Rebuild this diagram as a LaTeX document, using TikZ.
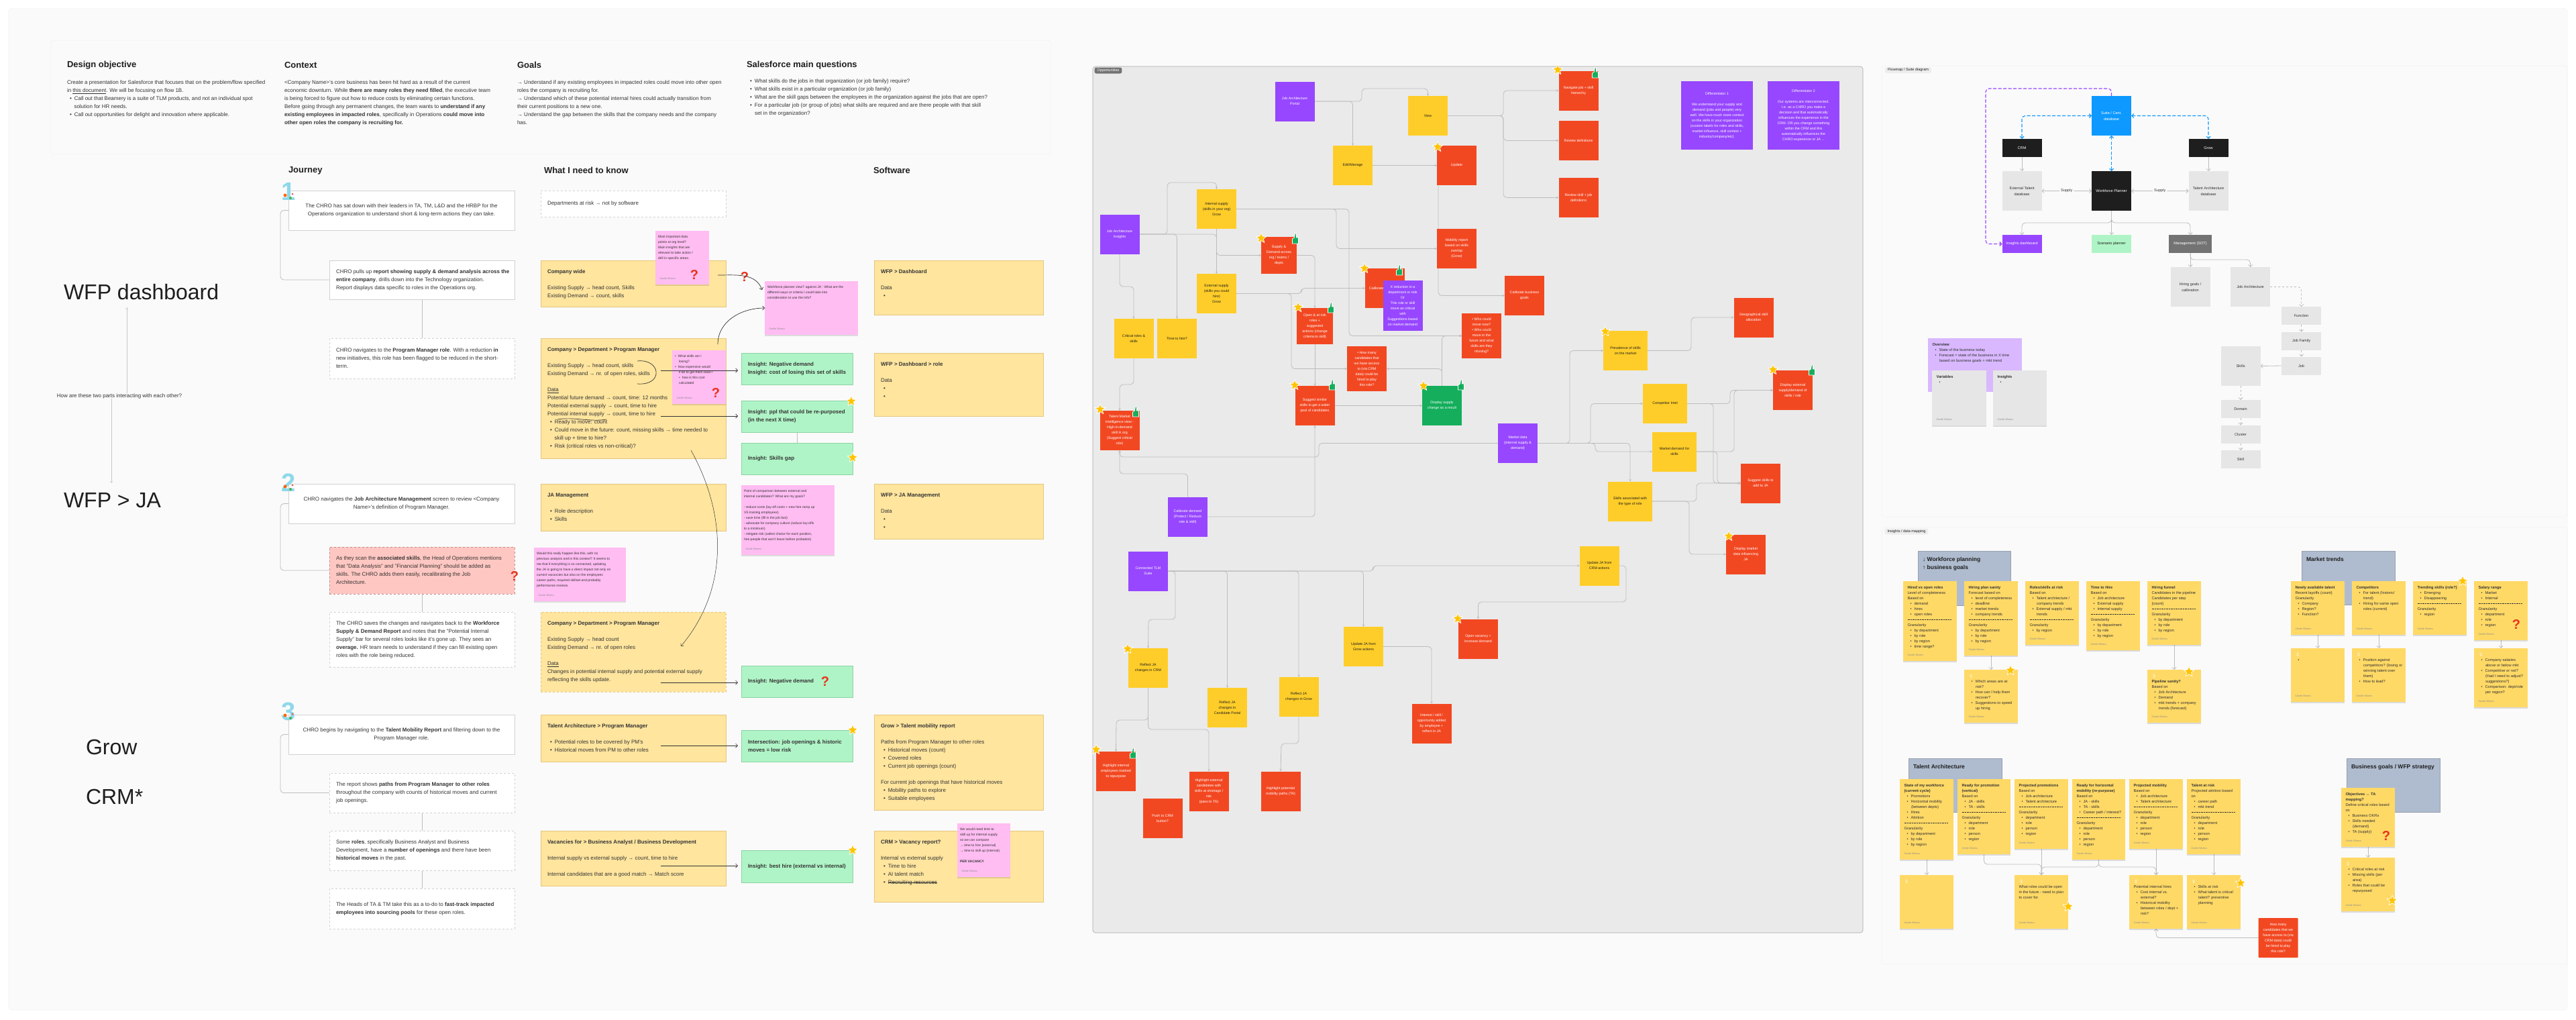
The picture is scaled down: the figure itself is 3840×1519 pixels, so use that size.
\documentclass[tikz,border=0pt]{standalone}
\usepackage{fontspec}
\setmainfont{Liberation Sans}
\newfontfamily\emojifont{Noto Emoji}
\usetikzlibrary{arrows.meta,shapes.geometric,shadows}
\pgfdeclarelayer{back}
\pgfdeclarelayer{links}
\pgfsetlayers{back,links,main}
\definecolor{pagegrey}{HTML}{FAFAFA}
\definecolor{panelgrey}{HTML}{EAEAEA}
\definecolor{edgegrey}{HTML}{F2F2F2}
\definecolor{linkgrey}{HTML}{BDBDBD}
\definecolor{inkgrey}{HTML}{333333}
\definecolor{cardyellow}{HTML}{FFE59E}
\definecolor{cardedge}{HTML}{E6C67C}
\definecolor{cardgreen}{HTML}{AFF4C6}
\definecolor{greenedge}{HTML}{8CD3A4}
\definecolor{cardpink}{HTML}{FFBDF2}
\definecolor{cardsalmon}{HTML}{FFC7C2}
\definecolor{stickyyellow}{HTML}{FFD966}
\definecolor{oppred}{HTML}{F24822}
\definecolor{oppyellow}{HTML}{FFCD29}
\definecolor{opppurple}{HTML}{9747FF}
\definecolor{oppgreen}{HTML}{14AE5C}
\definecolor{suiteblue}{HTML}{0D99FF}
\definecolor{suiteblack}{HTML}{1E1E1E}
\definecolor{suitegrey}{HTML}{E6E6E6}
\definecolor{softpurple}{HTML}{D9B8FF}
\definecolor{headblue}{HTML}{AFBCCF}
\definecolor{starcolor}{HTML}{FFC400}
\definecolor{askred}{HTML}{E8321C}
\definecolor{digitblue}{HTML}{8FD8EA}
\newcommand{\bul}{\hspace*{4pt}\textbullet\hspace{4pt}}
\newcommand{\cnt}{\hspace*{10.5pt}}
\newcommand{\bulb}{{\color{white}\emojifont\symbol{"1F4A1}}}
\newcommand{\strike}[1]{\leavevmode\setbox0\hbox{#1}\rlap{\rule[2.2pt]{\wd0}{.4pt}}\box0}
\newcommand{\sepline}{\leavevmode\hbox to 66pt{\leaders\hbox{\rule[1.5pt]{0.8pt}{0.3pt}\hspace{0.6pt}}\hfill}}
\newcommand{\sticky}[6]{%
  \node[stickybox, minimum width={#4-#2}, minimum height={#5-#3}] (#1) at (#2,#3) {};
  \node[stickytext] (#1t) at (#1.north west) {#6};
  \node[signtext] (#1s) at (#1.south west) {Cecile Silvera};}
\newcommand{\pinknote}[6]{%
  \node[pinkbox, minimum width={#4-#2}, minimum height={#5-#3}] (#1) at (#2,#3) {};
  \node[pinktext] (#1t) at (#1.north west) {#6};
  \node[signtext] (#1s) at (#1.south west) {Cecile Silvera};}
\newcommand{\yellowcard}[7][]{%
  \node[yellowbox,#1, minimum width={#5-#3}, minimum height={#6-#4}] (#2) at (#3,#4) {};
  \node[yellowtext] (#2t) at (#2.north west) {#7};}
\newcommand{\journeycard}[7][]{%
  \node[journeybox,#1, minimum width={#5-#3}, minimum height={#6-#4}] (#2) at (#3,#4) {};
  \node[journeytext] (#2t) at (#2.west) {#7};}
\newcommand{\greencard}[6]{%
  \node[greenbox, minimum width={#4-#2}, minimum height={#5-#3}] (#1) at (#2,#3) {};
  \node[journeytext] (#1t) at (#1.west) {#6};}
\newcommand{\headcard}[6]{%
  \node[headbox, minimum width={#4-#2}, minimum height={#5-#3}] (#1) at (#2,#3) {};
  \node[headtext] (#1t) at (#1.north west) {#6};}
\begin{document}
\begin{tikzpicture}[x=1pt,y=-1pt,
    inner sep=0pt, outer sep=0pt,
    panel/.style={draw=edgegrey, fill=pagegrey, rounded corners=4pt, line width=.6pt},
    toptext/.style={anchor=north west, align=left, text=inkgrey, font=\fontsize{8}{12}\selectfont},
    sectionhead/.style={anchor=west, text=suiteblack, font=\fontsize{13}{15}\selectfont\bfseries},
    bigtitle/.style={anchor=west, text=suiteblack, font=\fontsize{32}{36}\selectfont},
    journeybox/.style={anchor=north west, fill=white, draw=black!18, line width=.7pt},
    journeymid/.style={fill=white, draw=black!18, line width=.7pt, align=center, text=inkgrey, font=\fontsize{8}{12}\selectfont},
    journeytext/.style={anchor=west, xshift=10pt, align=left, text=inkgrey, font=\fontsize{8}{12}\selectfont},
    yellowbox/.style={anchor=north west, fill=cardyellow, draw=cardedge, line width=.7pt},
    yellowtext/.style={anchor=north west, xshift=10pt, yshift=-14pt, align=left, text=inkgrey, font=\fontsize{8}{12}\selectfont},
    greenbox/.style={anchor=north west, fill=cardgreen, draw=greenedge, line width=.7pt},
    pinkbox/.style={anchor=north west, fill=cardpink, drop shadow={shadow xshift=0pt, shadow yshift=-1.5pt, fill=black, opacity=.12}},
    pinktext/.style={anchor=north west, xshift=4pt, yshift=-7pt, align=left, text=inkgrey, font=\fontsize{5}{8}\selectfont},
    stickybox/.style={anchor=north west, fill=stickyyellow, drop shadow={shadow xshift=0pt, shadow yshift=-1.5pt, fill=black, opacity=.12}},
    stickytext/.style={anchor=north west, xshift=6.5pt, yshift=-7pt, align=left, text=inkgrey, font=\fontsize{5.7}{8}\selectfont},
    signtext/.style={anchor=west, xshift=6.5pt, yshift=9pt, text=black!45, font=\fontsize{3.8}{5}\selectfont},
    headbox/.style={anchor=north west, fill=headblue, draw=headblue!85!black, line width=.4pt},
    headtext/.style={anchor=north west, xshift=7pt, yshift=-9pt, align=left, text=suiteblack, font=\fontsize{8.5}{12}\selectfont\bfseries},
    chip/.style={fill=black!7, rounded corners=2.5pt, minimum height=9pt, inner xsep=4pt, text=suiteblack, font=\fontsize{5.5}{7}\selectfont},
    opp/.style={minimum width=59pt, minimum height=59pt, align=center, font=\fontsize{5.3}{8}\selectfont},
    oppredbox/.style={opp, fill=oppred, text=white},
    oppyellowbox/.style={opp, fill=oppyellow, text=suiteblack},
    opppurplebox/.style={opp, fill=opppurple, text=white},
    oppgreenbox/.style={opp, fill=oppgreen, text=white},
    suite/.style={minimum width=59pt, align=center, font=\fontsize{5.6}{9}\selectfont},
    suiteblackbox/.style={suite, fill=suiteblack, text=white},
    suitegreybox/.style={suite, fill=suitegrey, text=inkgrey},
    link/.style={draw=linkgrey, line width=.8pt, rounded corners=5pt, -{Stealth[length=3.5pt,width=3.5pt]}},
    plainlink/.style={draw=linkgrey, line width=.8pt, rounded corners=5pt},
    suitelink/.style={draw=linkgrey, line width=.8pt, rounded corners=5pt, -{Straight Barb[length=3pt,width=6pt]}},
    duallink/.style={suitelink, {Straight Barb[length=3pt,width=6pt]}-{Straight Barb[length=3pt,width=6pt]}},
    darklink/.style={draw=inkgrey, line width=.7pt, -{Straight Barb[length=3pt,width=6pt]}},
    thinlink/.style={draw=black!22, line width=.4pt, -{Straight Barb[length=2.5pt,width=4pt]}},
    boldash/.style={line width=1.1pt, dash pattern=on 5pt off 2.5pt},
    starmark/.style={star, star points=5, star point ratio=2.2, fill=starcolor, draw=white, line width=.7pt, minimum size=16pt},
    askmark/.style={text=askred, font=\fontsize{20}{22}\selectfont\bfseries},
    digitmark/.style={text=digitblue, font=\fontsize{38}{38}\selectfont\bfseries},
    thumbmark/.pic={\fill[oppgreen, draw=white, line width=.7pt] (-4.5,0) -- (-1.5,-2) -- (-.5,-8) -- (1.5,-8) -- (1.5,-2) -- (4.5,-2) -- (4.5,7) -- (-4.5,7) -- cycle;}]
\useasboundingbox (0,0) rectangle (3840,1519);
% Panels
\begin{pgfonlayer}{back}
\node[panel, anchor=north west, minimum width=3814pt, minimum height=1492pt] (outer) at (13,13) {};
\node[panel, anchor=north west, minimum width=1490pt, minimum height=170pt] (brief) at (76,60) {};
\node[panel, fill=panelgrey, draw=black!35, anchor=north west, minimum width=1148pt, minimum height=1291pt] (opps) at (1629,99) {};
\node[panel, anchor=north west, minimum width=1022pt, minimum height=672pt] (flowpanel) at (2805,98) {};
\node[panel, anchor=north west, minimum width=1022pt, minimum height=651pt] (datapanel) at (2805,786) {};
\end{pgfonlayer}
% Brief
\node[sectionhead] (designhead) at (100,97) {Design objective};
\node[sectionhead] (contexthead) at (424,97) {Context};
\node[sectionhead] (goalshead) at (771,97) {Goals};
\node[sectionhead] (askhead) at (1113,97) {Salesforce main questions};
\node[toptext] (design) at (100,120) {Create a presentation for Salesforce that focuses that on the problem/flow specified\\in \underline{this document}. We will be focusing on flow 1B.\\\hspace*{4pt}•\hspace{4pt}Call out that Beamery is a suite of TLM products, and not an individual spot\\\cnt solution for HR needs.\\\hspace*{4pt}•\hspace{4pt}Call out opportunities for delight and innovation where applicable.};
\node[toptext] (context) at (424,120) {<Company Name>'s core business has been hit hard as a result of the current\\economic downturn. While \textbf{there are many roles they need filled}, the executive team\\is being forced to figure out how to reduce costs by eliminating certain functions.\\Before going through any permanent changes, the team wants to \textbf{understand if any}\\\textbf{existing employees in impacted roles}, specifically in Operations \textbf{could move into}\\\textbf{other open roles the company is recruiting for.}};
\node[toptext] (goals) at (771,120) {→ Understand if any existing employees in impacted roles could move into other open\\roles the company is recruiting for.\\→ Understand which of these potential internal hires could actually transition from\\their current positions to a new one.\\→ Understand the gap between the skills that the company needs and the company\\has.};
\node[toptext] (asks) at (1118,118) {•\hspace{4pt}What skills do the jobs in that organization (or job family) require?\\•\hspace{4pt}What skills exist in a particular organization (or job family)\\•\hspace{4pt}What are the skill gaps between the employees in the organization against the jobs that are open?\\•\hspace{4pt}For a particular job (or group of jobs) what skills are required and are there people with that skill\\\hspace*{7pt}set in the organization?};
% Journey columns
\node[sectionhead] (journeyhead) at (430,254) {Journey};
\node[sectionhead] (knowhead) at (811,254) {What I need to know};
\node[sectionhead] (softhead) at (1302,254) {Software};
\node[bigtitle] (wfpdash) at (95,435) {WFP dashboard};
\node[bigtitle] (wfpja) at (95,746) {WFP > JA};
\node[bigtitle] (growtitle) at (128,1113) {Grow};
\node[bigtitle] (crmtitle) at (128,1187) {CRM*};
\node[toptext, anchor=center] (ask) at (178,590) {How are these two parts interacting with each other?};
\coordinate (askup) at (189,458);
\coordinate (askdown) at (166,720);
% Journey steps
\node[journeymid, minimum width=337pt, minimum height=59pt] (j1) at (598.5,313.5) {The CHRO has sat down with their leaders in TA, TM, L\&D and the HRBP for the\\Operations organization to understand short \& long-term actions they can take.};
\journeycard{j2}{491}{388}{767}{446}{CHRO pulls up \textbf{report showing supply \& demand analysis across the}\\\textbf{entire company}, drills down into the Technology organization.\\Report displays data specific to roles in the Operations org.};
\journeycard[dashed]{j3}{491}{504}{767}{564}{CHRO navigates to the \textbf{Program Manager role}. With a reduction \textbf{in}\\new initiatives, this role has been flagged to be reduced in the short-\\term.};
\node[journeymid, minimum width=337pt, minimum height=59pt] (j4) at (598.5,750.5) {CHRO navigates the \textbf{Job Architecture Management} screen to review <Company\\Name>'s definition of Program Manager.};
\journeycard[dashed, fill=cardsalmon, draw=red!45!black!45]{j5}{491}{815}{767}{885}{As they scan the \textbf{associated skills}, the Head of Operations mentions\\that "Data Analysis" and "Financial Planning" should be added as\\skills. The CHRO adds them easily, recalibrating the Job\\Architecture.};
\journeycard[dashed]{j6}{491}{912}{767}{994}{The CHRO saves the changes and navigates back to the \textbf{Workforce}\\\textbf{Supply \& Demand Report} and notes that the "Potential Internal\\Supply" bar for several roles looks like it's gone up. They sees an\\\textbf{overage.} HR team needs to understand if they can fill existing open\\roles with the role being reduced.};
\node[journeymid, minimum width=337pt, minimum height=59pt] (j7) at (598.5,1094.5) {CHRO begins by navigating to the \textbf{Talent Mobility Report} and filtering down to the\\Program Manager role.};
\journeycard[dashed]{j8}{491}{1152}{767}{1211}{The report shows \textbf{paths from Program Manager to other roles}\\throughout the company with counts of historical moves and current\\job openings.};
\journeycard[dashed]{j9}{491}{1238}{767}{1297}{Some \textbf{roles}, specifically Business Analyst and Business\\Development, have a \textbf{number of openings} and there have been\\\textbf{historical moves} in the past.};
\journeycard[dashed]{j10}{491}{1324}{767}{1384}{The Heads of TA \& TM take this as a to-do to \textbf{fast-track impacted}\\\textbf{employees into sourcing pools} for these open roles.};
\node[digitmark] (one) at (430,285) {1};
\node[digitmark] (two) at (430,719) {2};
\node[digitmark] (three) at (430,1060) {3};
\foreach \d in {285,719,1060}{
  \fill[orange!80!red] (425,\d+6) circle (2.5pt);
  \fill[green!55!black!70] (433,\d+10) circle (2pt);
  \fill[red!70] (436,\d+4) circle (1.5pt);
}
% What I need to know
\node[journeybox, dashed, minimum width=276pt, minimum height=39pt] (atrisk) at (806,284) {};
\node[journeytext] (atriskt) at (atrisk.west) {Departments at risk → not by software};
\yellowcard{company}{806}{388}{1082}{457}{\textbf{Company wide}\\[12pt]Existing Supply → head count, Skills\\Existing Demand → count, skills};
\yellowcard{cdpm}{806}{504}{1082}{683}{\textbf{Company > Department > Program Manager}\\[12pt]Existing Supply → head count, skills\\Existing Demand → nr. of open roles, skills\\[12pt]\underline{Data}\\Potential future demand → count, time: 12 months\\Potential external supply → count, time to hire\\Potential internal supply → count, time to hire\\\bul Ready to move: count\\\bul Could move in the future: count, missing skills → time needed to\\\cnt skill up + time to hire?\\\bul Risk (critical roles vs non-critical)?};
\yellowcard{jamanage}{806}{721}{1082}{791}{\textbf{JA Management}\\[12pt]\bul Role description\\\bul Skills};
\yellowcard[dashed]{cdpmtwo}{806}{912}{1082}{1031}{\textbf{Company > Department > Program Manager}\\[12pt]Existing Supply → head count\\Existing Demand → nr. of open roles\\[12pt]\underline{Data}\\Changes in potential internal supply and potential external supply\\reflecting the skills update.};
\yellowcard{tapm}{806}{1065}{1082}{1135}{\textbf{Talent Architecture > Program Manager}\\[12pt]\bul Potential roles to be covered by PM's\\\bul Historical moves from PM to other roles};
\yellowcard{vacancies}{806}{1238}{1082}{1320}{\textbf{Vacancies for > Business Analyst / Business Development}\\[12pt]Internal supply vs external supply → count, time to hire\\[12pt]Internal candidates that are a good match → Match score};
% Insights
\greencard{negone}{1105}{526}{1271}{573}{\textbf{Insight: Negative demand}\\\textbf{Insight: cost of losing this set of skills}};
\greencard{purpose}{1105}{597}{1271}{644}{\textbf{Insight: ppl that could be re-purposed}\\\textbf{(in the next X time)}};
\greencard{skillgap}{1105}{660}{1271}{707}{\textbf{Insight: Skills gap}};
\greencard{negtwo}{1105}{992}{1271}{1039}{\textbf{Insight: Negative demand}};
\greencard{intersect}{1105}{1088}{1271}{1135}{\textbf{Intersection: job openings \& historic}\\\textbf{moves = low risk}};
\greencard{besthire}{1105}{1267}{1271}{1315}{\textbf{Insight: best hire (external vs internal)}};
% Software
\yellowcard{softdash}{1303}{388}{1555}{469}{\textbf{WFP > Dashboard}\\[12pt]Data\\\bul};
\yellowcard{softrole}{1303}{526}{1555}{620}{\textbf{WFP > Dashboard > role}\\[12pt]Data\\\bul\\\bul};
\yellowcard{softja}{1303}{721}{1555}{803}{\textbf{WFP > JA Management}\\[12pt]Data\\\bul\\\bul};
\yellowcard{softgrow}{1303}{1065}{1555}{1207}{\textbf{Grow > Talent mobility report}\\[12pt]Paths from Program Manager to other roles\\\bul Historical moves (count)\\\bul Covered roles\\\bul Current job openings (count)\\[12pt]For current job openings that have historical moves\\\bul Mobility paths to explore\\\bul Suitable employees};
\yellowcard{softcrm}{1303}{1238}{1555}{1344}{\textbf{CRM > Vacancy report?}\\[12pt]Internal vs external supply\\\bul Time to hire\\\bul AI talent match\\\bul \strike{Recruiting resources}};
% Comments
\pinknote{pinkdata}{977}{344}{1057}{424}{Most important data\\points at org level?\\Main insights that are\\relevant to take action /\\drill in specific areas.};
\pinknote{pinkview}{1140}{419}{1279}{499}{Workforce planner view? against JA - What are the\\different ways or criteria I could take into\\consideration to use the info?};
\pinknote{pinkcost}{1002}{522}{1082}{602}{\textbullet\hspace{3pt}What skills am I\\\hspace*{6pt}losing?\\\textbullet\hspace{3pt}How expensive would\\\hspace*{6pt}it be to get them back?\\\hspace*{6pt}\textbullet\hspace{3pt}how is this cost\\\hspace*{6pt}calculated};
\pinknote{pinkgoals}{1105}{723}{1244}{827}{Point of comparison between external and\\internal candidates? What are my goals?\\[8pt]- reduce costs (lay-off costs + new hire ramp up\\VS training employees)\\- save time (fill in the job fast)\\- advocate for company culture (reduce lay-offs\\to a minimum)\\- mitigate risk (safest choice for each position,\\hire people that won't leave before probation)};
\pinknote{pinkreal}{796}{816}{933}{896}{Would this really happen like this, with no\\previous analysis and in this context? It seems to\\me that if everything is so connected, updating\\the JA is going to have a direct impact not only on\\current vacancies but also on the employees\\career paths, required skillset and probably\\performance reviews.};
\pinknote{pinkskill}{1427}{1227}{1506}{1307}{We would need time to\\skill up for internal supply\\so we can compare\\→ time to hire (external)\\→ time to skill up (internal)\\[8pt]\textbf{PER VACANCY}};
\coordinate (cdpmtop) at (1070,513);
\coordinate (bracetop) at (950,538);
\coordinate (bracemid) at (985,552);
\coordinate (bracebot) at (950,572);
\coordinate (arcfrom) at (1030,671);
\coordinate (arcto) at (1015,963);
\coordinate (askfrom) at (1070,410);
\coordinate (purposefrom) at (985,620);
\coordinate (negfrom) at (985,1017);
\coordinate (interfrom) at (985,1111);
\coordinate (hirefrom) at (985,1290);
\coordinate (wavefrom) at (831,625);
\coordinate (waveto) at (904,625);
% Opportunities
\node[chip, fill=black!55, text=white] (oppchip) at (1652,105) {Opportunities};
\node[opppurplebox] (portal) at (1930,151) {Job Architecture\\Portal};
\node[oppyellowbox] (view) at (2128.5,172.5) {View};
\node[oppredbox] (navigate) at (2353,135) {Navigate job + skill\\hierarchy};
\node[oppredbox] (reviewdef) at (2353,209.5) {Review definitions};
\node[oppredbox] (reviewskill) at (2353,294.5) {Review skill + job\\definitions};
\node[opppurplebox, minimum width=107pt, minimum height=102pt] (diffone) at (2559.5,172) {Differentiator 1\\[8pt]We understand your supply and\\demand (jobs and people) very\\well. We have much more context\\on the skills in your organization\\(custom labels for roles and skills,\\market influence, skill context +\\industry/company/etc).};
\node[opppurplebox, minimum width=107pt, minimum height=102pt] (difftwo) at (2688.5,172) {Differentiator 2\\[8pt]Our systems are interconnected.\\I.e. as a CHRO you make a\\decision and that automatically\\influences the experience in the\\CRM. OR you change something\\within the CRM and this\\automatically influences the\\CHRO experience or JA ...};
\node[oppyellowbox] (editjob) at (2016.5,246.5) {Edit/Manage};
\node[oppredbox] (update) at (2171.5,246.5) {Update};
\node[oppyellowbox] (internal) at (1813.5,311.5) {Internal supply\\(skills in your org)\\Grow};
\node[opppurplebox] (jainsight) at (1669,349) {Job Architecture\\Insights};
\node[oppredbox, minimum width=53pt, minimum height=55pt] (supply) at (1906.5,380.5) {Supply \&\\Demand across\\org / teams /\\depts};
\node[oppredbox] (mobility) at (2171.5,370.5) {Mobility report\\based on skills\\overlap\\(Grow)};
\node[oppyellowbox] (external) at (1813.5,437.5) {External supply\\(skills you could\\hire)\\Grow};
\node[oppredbox, text width=59pt, align=left] (calib) at (2064.5,429.5) {\hspace*{6pt}Calibrate};
\node[opppurplebox, minimum height=75pt] (reduce) at (2091,455.5) {X reduction in a\\department or role\\Or\\This role or skill\\move as critical\\with\\Suggestions based\\on market demand};
\node[oppredbox] (goalsbiz) at (2272.5,440.5) {Calibrate business\\goals};
\node[oppredbox, minimum width=54pt, minimum height=54pt] (openrisk) at (1960,486) {Open \& at risk\\roles +\\suggested\\actions (change\\criteria to skill)};
\node[oppyellowbox] (critical) at (1690,504.5) {Critical roles \&\\skills};
\node[oppyellowbox] (timehire) at (1754.5,504.5) {Time to hire?};
\node[oppredbox, minimum height=67pt] (whomove) at (2208.5,500.5) {• Who could\\move now?\\• Who could\\move in the\\future and what\\skills are they\\missing?};
\node[oppredbox, minimum height=67pt] (howmany) at (2037.5,549.5) {• How many\\candidates that\\we have access\\to (via CRM\\data) could be\\hired to play\\this role?};
\node[oppyellowbox, minimum width=66pt] (prevalence) at (2423,522.5) {Prevalence of skills\\on the market};
\node[oppredbox] (geo) at (2614,473) {Geographical skill\\allocation};
\node[oppredbox] (dispext) at (2672.5,581.5) {Display external\\supply/demand of\\skills / role};
\node[oppyellowbox, minimum width=66pt] (competitor) at (2482,601.5) {Competitor Intel};
\node[oppyellowbox, minimum width=66pt] (mktdemand) at (2496,673) {Market demand for\\skills};
\node[opppurplebox] (mktdata) at (2262.5,660.5) {Market data\\(internal supply \&\\demand)};
\node[oppredbox] (similar) at (1960,604.5) {Suggest similar\\skills to get a wider\\pool of candidates};
\node[oppgreenbox] (display) at (2149.5,604.5) {Display supply\\change as a result};
\node[oppredbox] (talentmkt) at (1669,641.5) {Talent Market\\Intelligence view -\\High-in-demand\\skill in org\\(Suggest critical\\role)};
\node[opppurplebox] (caldemand) at (1770.5,770) {Calibrate demand\\(Protect / Reduce\\role \& skill)};
\node[oppyellowbox, minimum width=66pt] (skillsrole) at (2430,747) {Skills associated with\\the type of role};
\node[oppredbox] (suggestja) at (2624.5,720) {Suggest skills to\\add to JA};
\node[oppredbox] (dispmkt) at (2602.5,826) {Display market\\data influencing\\JA};
\node[oppyellowbox] (updatecrm) at (2384,843) {Update JA from\\CRM actions};
\node[opppurplebox] (tlm) at (1711.5,851) {Connected TLM\\Suite};
\node[oppredbox] (vacancy) at (2203.5,952) {Open vacancy +\\increase demand};
\node[oppyellowbox] (updategrow) at (2032.5,963.5) {Update JA from\\Grow actions};
\node[oppyellowbox] (reflectcrm) at (1711.5,995.5) {Reflect JA\\changes in CRM};
\node[oppyellowbox] (reflectportal) at (1829.5,1054.5) {Reflect JA\\changes in\\Candidate Portal};
\node[oppyellowbox] (reflectgrow) at (1936,1038.5) {Reflect JA\\changes in Grow};
\node[oppredbox] (interest) at (2134,1078) {Interest / skill /\\opportunity added\\by employee +\\reflect in JA};
\node[oppredbox] (hlinternal) at (1663.5,1149.5) {Highlight internal\\employees marked\\to repurpose};
\node[oppredbox] (hlexternal) at (1802,1179) {Highlight external\\candidates with\\skills at shortage /\\risk\\(pass to TA)};
\node[oppredbox] (hlpaths) at (1909,1179) {Highlight potential\\mobility paths (TA)};
\node[oppredbox] (pushcrm) at (1733,1219.5) {Push to CRM\\button?};
% Suite diagram
\node[chip] (flowchip) at (2844.5,104.5) {Flowmap / Suite diagram};
\node[suite, fill=suiteblue, text=white, minimum height=59pt] (suitedb) at (3147.5,172.5) {Suite / Cent.\\database};
\node[suiteblackbox, minimum height=27pt] (crm) at (3014,220.5) {CRM};
\node[suiteblackbox, minimum height=27pt] (grow) at (3292,220.5) {Grow};
\node[suitegreybox, minimum height=59pt] (extdb) at (3014,284.5) {External Talent\\database};
\node[suiteblackbox, minimum height=59pt] (planner) at (3147.5,284.5) {Workforce Planner};
\node[suitegreybox, minimum height=59pt] (talentdb) at (3292,284.5) {Talent Architecture\\database};
\node[suite, fill=opppurple, text=white, minimum height=27pt] (dashboard) at (3014,363.5) {Insights dashboard};
\node[suite, fill=cardgreen, text=suiteblack, minimum height=27pt] (scenario) at (3147.5,363.5) {Scenario planner};
\node[suite, fill=black!55, text=white, minimum width=64pt, minimum height=27pt] (management) at (3265,363.5) {Management (SOT)};
\node[suitegreybox, minimum height=59pt] (hiringgoals) at (3265,427.5) {Hiring goals /\\calibration};
\node[suitegreybox, minimum height=59pt] (jobarch) at (3354.5,427.5) {Job Architecture};
\node[suitegreybox, minimum height=27pt] (function) at (3430.5,470.5) {Function};
\node[suitegreybox, minimum height=27pt] (jobfamily) at (3430.5,508) {Job Family};
\node[suitegreybox, minimum height=27pt] (job) at (3430.5,545) {Job};
\node[suitegreybox, minimum height=59pt] (skills) at (3340,545.5) {Skills};
\node[suitegreybox, minimum height=27pt] (domain) at (3340,609.5) {Domain};
\node[suitegreybox, minimum height=27pt] (cluster) at (3340,647) {Cluster};
\node[suitegreybox, minimum height=27pt] (skillnode) at (3340,684.5) {Skill};
\node[anchor=north west, fill=softpurple, minimum width=140pt, minimum height=80pt] (overview) at (2874,504) {};
\node[stickytext] (overviewt) at (overview.north west) {\textbf{Overview}\\\bul State of the business today\\\bul Forecast = state of the business in X time\\\cnt based on business goals + mkt trend};
\node[stickybox, fill=suitegrey, minimum width=81pt, minimum height=82pt] (variables) at (2880,552) {};
\node[stickytext] (variablest) at (variables.north west) {\textbf{Variables}\\\bul};
\node[signtext] (variabless) at (variables.south west) {Cecile Silvera};
\node[stickybox, fill=suitegrey, minimum width=80pt, minimum height=82pt] (insightscol) at (2971,552) {};
\node[stickytext] (insightscolt) at (insightscol.north west) {\textbf{Insights}\\\bul};
\node[signtext] (insightscols) at (insightscol.south west) {Cecile Silvera};
% Data mapping
\node[chip] (datachip) at (2842,792) {Insights / data mapping};
\headcard{wfphead}{2859}{821}{2997}{902}{↓ Workforce planning\\↑ business goals};
\sticky{hired}{2837}{866}{2917}{985}{\textbf{Hired vs open roles}\\Level of completeness\\Based on\\\bul demand\\\bul hires\\\bul open roles\\\sepline\\Granularity\\\bul by department\\\bul by role\\\bul by region\\\bul time range?};
\sticky{sanity}{2928}{866}{3008}{977}{\textbf{Hiring plan sanity}\\Forecast based on\\\bul level of completeness\\\bul deadline\\\bul market trends\\\bul company trends\\\sepline\\Granularity\\\bul by department\\\bul by role\\\bul by region};
\sticky{atriskroles}{3019}{866}{3099}{961}{\textbf{Roles/skills at risk}\\Based on\\\bul Talent architecture /\\\cnt company trends\\\bul External supply / mkt\\\cnt trends\\\sepline\\Granularity\\\bul by region};
\sticky{tthire}{3110}{866}{3190}{969}{\textbf{Time to Hire}\\Based on\\\bul Job architecture\\\bul External supply\\\bul Internal supply\\\sepline\\Granularity\\\bul by department\\\bul by role\\\bul by region};
\sticky{funnel}{3201}{866}{3281}{961}{\textbf{Hiring funnel}\\Candidates in the pipeline\\Candidates per step\\(count)\\\sepline\\Granularity\\\bul by department\\\bul by role\\\bul by region};
\sticky{sanityask}{2928}{998}{3008}{1077}{\bulb\\\bul Which areas are at\\\cnt risk?\\\bul How can I help them\\\cnt recover?\\\bul Suggestions to speed\\\cnt up hiring};
\sticky{funnelask}{3201}{998}{3281}{1077}{\bulb\\\textbf{Pipeline sanity?}\\Based on\\\bul Job Architecture\\\bul Demand\\\bul mkt trends + company\\\cnt trends (forecast)};
\headcard{markethead}{3431}{821}{3570}{901}{Market trends};
\sticky{layoffs}{3415}{866}{3495}{946}{\textbf{Newly available talent}\\Recent layoffs (count)\\Granularity\\\bul Company\\\bul Region?\\\bul Function?};
\sticky{competitors}{3506}{866}{3586}{946}{\textbf{Competitors}\\\bul For talent (historic/\\\cnt trend)\\\bul Hiring for same open\\\cnt roles (current)};
\sticky{trending}{3597}{866}{3677}{946}{\textbf{Trending skills (role?)}\\\bul Emerging\\\bul Disappearing\\\sepline\\Granularity\\\bul region};
\sticky{salary}{3688}{866}{3768}{954}{\textbf{Salary range}\\\bul Market\\\bul Internal\\\sepline\\Granularity\\\bul department\\\bul role\\\bul region};
\sticky{layoffsask}{3415}{966}{3495}{1046}{\bulb\\\bul};
\sticky{competask}{3506}{966}{3586}{1046}{\bulb\\\bul Position against\\\cnt competitors? (losing or\\\cnt winning talent over\\\cnt them)\\\bul How to lead?};
\sticky{salaryask}{3688}{966}{3768}{1054}{\bulb\\\bul Company salaries\\\cnt above or below mkt\\\bul Competitive or not?\\\cnt (Had I need to adjust?\\\cnt suggestions?)\\\bul Comparison: dept/role\\\cnt per region?};
\headcard{tahead}{2845}{1130}{2984}{1210}{Talent Architecture};
\sticky{workforce}{2832}{1161}{2912}{1281}{\textbf{State of my workforce}\\\textbf{(current cycle)}\\\bul Promotions\\\bul Horizontal mobility\\\cnt (between depts)\\\bul Hires\\\bul Attrition\\\sepline\\Granularity\\\bul by department\\\bul by role\\\bul by region};
\sticky{promotion}{2918}{1161}{2997}{1273}{\textbf{Ready for promotion}\\\textbf{(vertical)}\\Based on\\\bul JA - skills\\\bul TA - skills\\\sepline\\Granularity\\\bul department\\\bul role\\\bul person\\\bul region};
\sticky{projpromo}{3003}{1161}{3083}{1265}{\textbf{Projected promotions}\\Based on\\\bul Job architecture\\\bul Talent architecture\\\sepline\\Granularity\\\bul department\\\bul role\\\bul person\\\bul region};
\sticky{horizontal}{3089}{1161}{3168}{1281}{\textbf{Ready for horizontal}\\\textbf{mobility (re-purpose)}\\Based on\\\bul JA - skills\\\bul TA - skills\\\bul Career path / interest?\\\sepline\\Granularity\\\bul department\\\bul role\\\bul person\\\bul region};
\sticky{projmob}{3174}{1161}{3254}{1265}{\textbf{Projected mobility}\\Based on\\\bul Job architecture\\\bul Talent architecture\\\sepline\\Granularity\\\bul department\\\bul role\\\bul person\\\bul region};
\sticky{talentrisk}{3260}{1161}{3340}{1273}{\textbf{Talent at risk}\\Projected attrition based\\on\\\bul career path\\\bul mkt trend\\\sepline\\Granularity\\\bul department\\\bul role\\\bul person\\\bul region};
\sticky{workforceask}{2832}{1304}{2912}{1384}{\bulb};
\sticky{promoask}{3003}{1304}{3083}{1384}{\bulb\\What roles could be open\\in the future - need to plan\\to cover for.};
\sticky{mobask}{3174}{1304}{3254}{1384}{\bulb\\Potential internal hires\\\bul Cost internal vs.\\\cnt external?\\\bul Historical mobility\\\cnt between roles / dept +\\\cnt risk?};
\sticky{riskask}{3260}{1304}{3340}{1384}{\bulb\\\bul Skills at risk\\\bul What talent is critical\\\cnt talent? preventive\\\cnt planning};
\node[oppredbox, minimum height=59pt, rounded corners=1pt] (howcard) at (3396,1397.5) {How many\\candidates that we\\have access to (via\\CRM data) could\\be hired to play\\this role?};
\headcard{bizhead}{3498}{1130}{3637}{1210}{Business goals / WFP strategy};
\sticky{objectives}{3490}{1174}{3570}{1262}{\textbf{Objectives ↔ TA}\\\textbf{mapping?}\\Define critical roles based\\on\\\bul Business OKRs\\\bul Skills needed\\\cnt (demand)\\\bul TA (supply)};
\sticky{objectask}{3490}{1278}{3570}{1358}{\bulb\\\bul Critical roles at risk\\\bul Missing skills (per\\\cnt area)\\\bul Roles that could be\\\cnt repurposed};
% Stars, thumbs, question marks
\foreach \x/\y [count=\i] in {1269/598,1271/682,1271/1088,1271/1267,2322/104,2143/219,1880/355,2034/400,1935/458,2393/494,2643/551,1930/574,2122/575,1640/610,1681/967,2173/922,2577/799,1634/1117,2997/999,3263/1001,3671/866,3083/1351,3340/1316,3566/1342}
  \node[starmark] (star\i) at (\x,\y) {};
\foreach \x/\y in {2378/109,1931/356,2086/403,1984/459,2701/552,1986/574,2178/574,1693/614,1689/1123}
  \pic at (\x,\y) {thumbmark};
\foreach \x/\y [count=\i] in {1035/410,1110/413,1067/586,767/859,1230/1015,3751/930,3557/1245}
  \node[askmark] (mark\i) at (\x,\y) {?};
% Connectors
\begin{pgfonlayer}{links}
\draw[thinlink] (askup |- ask.north) -- (askup);
\draw[thinlink] (askdown |- ask.south) -- (askdown);
\draw[plainlink] (j1.west) -| (418,417) -- (j2.west);
\draw[plainlink] (j4.west) -| (418,850) -- (j5.west);
\draw[plainlink] (j7.west) -| (418,1181.5) -- (j8.west);
\draw[plainlink] (j2.south) -- (j3.north);
\draw[plainlink] (j5.south) -- (j6.north);
\draw[plainlink] (j8.south) -- (j9.north);
\draw[plainlink] (j9.south) -- (j10.north);
\draw[plainlink] (purpose.south) -- (skillgap.north);
\end{pgfonlayer}
\draw[darklink] (askfrom) to[out=0,in=110] ([xshift=-4pt,yshift=-13pt]pinkview.north west);
\draw[darklink] (cdpmtop) to[out=90,in=180] (pinkview.west);
\draw[darklink, -] (bracetop) .. controls (985,534) and (990,575) .. (bracebot);
\draw[darklink, shorten >=5pt] (bracemid) -- (bracemid -| negone.west);
\draw[darklink, shorten >=5pt] (purposefrom) -- (purposefrom -| purpose.west);
\draw[darklink, shorten >=5pt] (negfrom) -- (negfrom -| negtwo.west);
\draw[darklink, shorten >=5pt] (interfrom) -- (interfrom -| intersect.west);
\draw[darklink, shorten >=5pt] (hirefrom) -- (hirefrom -| besthire.west);
\draw[darklink, -] (wavefrom) .. controls (855,621) and (880,629) .. (waveto);
\draw[darklink, line width=.5pt] (arcfrom) .. controls (1085,770) and (1085,880) .. (arcto);
\begin{pgfonlayer}{links}
\draw[link] (portal.east) -| (2030,132) -| (view.north);
\draw[link] (portal.east) -| (editjob.north);
\draw[link] (view.east) -- ++(83,0) |- (navigate.west);
\draw[link] (view.east) -- ++(83,0) |- (reviewdef.west);
\draw[link] (view.east) -- ++(83,0) |- (reviewskill.west);
\draw[link] (editjob.east) -- (update.west);
\draw[link] ([xshift=2pt]update.south west) |- (goalsbiz.west);
\draw[link] (internal.east) -- (1992,311.5) |- (mobility.west);
\draw[link] (internal.east) -- (2011,311.5) |- (whomove.west);
\draw[link] (jainsight.east) -| (1740,272) -| (internal.north);
\draw[link] (jainsight.east) -| (timehire.north);
\draw[link] (jainsight.east) -| (external.north);
\draw[link] (internal.south) |- (supply.west);
\draw[link] (supply.east) -| (openrisk.north);
\draw[link] (jainsight.south) -- (1669,427) -| (critical.north);
\draw[link] (critical.south) -- (1690,573) -| (talentmkt.north);
\draw[link] (external.east) -- (1940,437.5) |- (calib.west);
\draw[link] (external.east) -- (1925,437.5) |- (howmany.west);
\draw[link] (openrisk.south) -- (similar.north);
\draw[link] (similar.east) -- (display.west);
\draw[link] (display.north) |- (howmany.east);
\draw[link] (display.north) |- (whomove.west);
\draw[link] (mktdata.west) -- (1966,660.5) |- (1669,681) -- (talentmkt.south);
\draw[link] (caldemand.east) -| (similar.south);
\draw[link] (caldemand.north) |- (1669,706) -- (talentmkt.south);
\draw[link] (mktdata.east) -- (2340,660.5) |- (prevalence.west);
\draw[link] (mktdata.east) -- (2371,660.5) |- (competitor.west);
\draw[link] (mktdata.east) -- (2378,660.5) |- (mktdemand.west);
\draw[link] (mktdata.east) -| (skillsrole.north);
\draw[link] (prevalence.east) -- (2521,522.5) |- (geo.west);
\draw[link] (competitor.east) -- (2579,601.5) |- (dispext.west);
\draw[link] (competitor.east) -- (2554,601.5) |- (suggestja.west);
\draw[link] (mktdemand.east) -- (2585,673) |- (dispext.west);
\draw[link] (mktdemand.east) -- (2560,673) |- (suggestja.west);
\draw[link] (skillsrole.east) -- (2529,747) |- (suggestja.west);
\draw[link] (skillsrole.east) -- (2518,747) |- (dispmkt.west);
\draw[link] (tlm.east) -- (2047,851) |- (updatecrm.west);
\draw[link] (tlm.east) -- (1752,851) |- (1712,923) -- (reflectcrm.north);
\draw[link] (tlm.east) -| (reflectportal.north);
\draw[link] (tlm.east) -| (reflectgrow.north);
\draw[link] (tlm.east) -| (updategrow.north);
\draw[link] (updatecrm.east) -| (2424,897) -| (vacancy.north);
\draw[link] (updategrow.east) -| (interest.north);
\draw[link] (reflectcrm.south) |- (1664,1073) -- (hlinternal.north);
\draw[link] (reflectcrm.south) |- (1802,1087) -- (hlexternal.north);
\draw[link] (reflectgrow.south) |- (1910,1108) -- (hlpaths.north);
% Suite links
\draw[suitelink, draw=opppurple, boldash] (suitedb.north) |- (2960,132) |- (dashboard.west);
\draw[duallink, draw=suiteblue, boldash] (suitedb.west) -| (crm.north);
\draw[duallink, draw=suiteblue, boldash] (suitedb.east) -| (grow.north);
\draw[duallink, draw=suiteblue, boldash] (suitedb.south) -- (planner.north);
\draw[suitelink] (crm.south) -- (extdb.north);
\draw[suitelink] (grow.south) -- (talentdb.north);
\draw[duallink] (extdb.east) -- node[fill=pagegrey, inner xsep=2pt, text=inkgrey, font=\fontsize{5.6}{8}\selectfont] (supplyleft) {Supply} (planner.west);
\draw[duallink] (planner.east) -- node[fill=pagegrey, inner xsep=2pt, text=inkgrey, font=\fontsize{5.6}{8}\selectfont] (supplyright) {Supply} (talentdb.west);
\draw[suitelink] (planner.south) -- ++(0,18) -| (dashboard.north);
\draw[suitelink] (planner.south) -- (scenario.north);
\draw[suitelink] (planner.south) -- ++(0,18) -| (management.north);
\draw[suitelink] (management.south) -- (hiringgoals.north);
\draw[suitelink] (management.south) -- ++(0,10) -| (jobarch.north);
\draw[suitelink, dashed] (jobarch.east) -| (function.north);
\draw[suitelink, dashed] (function.south) -- (jobfamily.north);
\draw[suitelink, dashed] (jobfamily.south) -- (job.north);
\draw[suitelink] (job.west) -- (skills.east);
\draw[suitelink, dashed] (skills.south) -- (domain.north);
\draw[suitelink, dashed] (domain.south) -- (cluster.north);
\draw[suitelink, dashed] (cluster.south) -- (skillnode.north);
% Data links
\draw[suitelink] (sanity.south) -- (sanityask.north);
\draw[suitelink] (funnel.south) -- (funnelask.north);
\draw[suitelink] (layoffs.south) -- (layoffsask.north);
\draw[suitelink] (competitors.south) -- (competask.north);
\draw[suitelink] (salary.south) -- (salaryask.north);
\draw[suitelink] (workforce.south) -- (workforceask.north);
\draw[suitelink] (projpromo.south) -- (promoask.north);
\draw[suitelink] (projmob.south) -- (mobask.north);
\draw[suitelink] (talentrisk.south) -- (riskask.north);
\draw[suitelink] (objectives.south) -- (objectask.north);
\draw[suitelink] (promotion.south) |- (3043,1288) -- (promoask.north);
\draw[suitelink] (horizontal.south) |- (3043,1292) -- (promoask.north);
\draw[suitelink] (horizontal.south) |- (3214,1292) -- (mobask.north);
\draw[suitelink] (howcard.west) -| (mobask.south);
\end{pgfonlayer}
\end{tikzpicture}
\end{document}
